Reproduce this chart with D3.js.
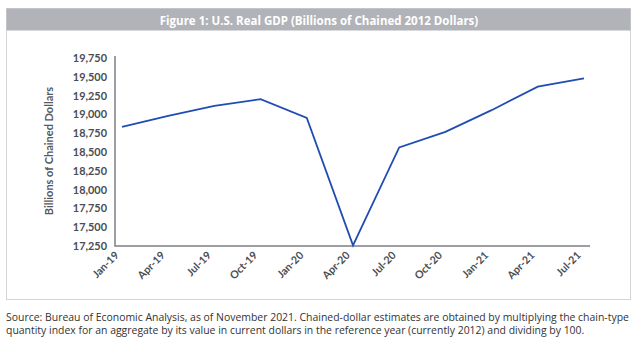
<!DOCTYPE html>
<html>
<head>
<meta charset="utf-8">
<script src="https://cdn.jsdelivr.net/npm/d3@7"></script>
<style>
  body { margin: 0; background: #fff; }
  svg { display: block; font-family: Lato, "Open Sans", sans-serif; }
</style>
</head>
<body>
<div id="chart"></div>
<script>
// quarters and real GDP (billions of chained 2012 dollars)
const quarters = ['Jan-19', 'Apr-19', 'Jul-19', 'Oct-19', 'Jan-20', 'Apr-20',
                  'Jul-20', 'Oct-20', 'Jan-21', 'Apr-21', 'Jul-21'];
const gdp = [18833, 18982, 19112, 19202, 18952, 17258, 18561, 18768, 19056, 19368, 19479];
const yTicks = [17250, 17500, 17750, 18000, 18250, 18500, 18750, 19000, 19250, 19500, 19750];

const title = 'Figure 1: U.S. Real GDP (Billions of Chained 2012 Dollars)';
const yLabel = 'Billions of Chained Dollars';
const source = [
  'Source: Bureau of Economic Analysis, as of November 2021. Chained-dollar estimates are obtained by multiplying the chain-type',
  'quantity index for an aggregate by its value in current dollars in the reference year (currently 2012) and dividing by 100.'
];

const W = 640, H = 343;
const svg = d3.select('#chart').append('svg')
    .attr('width', W).attr('height', H);

//Frame + title band
svg.append('rect')
    .attr('x', 6.5).attr('y', 8.5).attr('width', 624).attr('height', 291)
    .attr('fill', '#fff').attr('stroke', '#d4d5d8').attr('stroke-width', 1);
svg.append('rect')
    .attr('x', 6.5).attr('y', 8.5).attr('width', 624).attr('height', 22)
    .attr('fill', '#b1b3b8');
svg.append('text')
    .attr('x', 319).attr('y', 24.5)
    .attr('text-anchor', 'middle')
    .attr('fill', '#fff')
    .attr('font-family', '"Open Sans", sans-serif')
    .attr('font-weight', 'bold')
    .attr('font-size', 11.5)
    .text(title);

//Scales
const x = d3.scalePoint()
    .domain(quarters)
    .range([122, 584]);
const y = d3.scaleLinear()
    .domain([17250, 19750])
    .range([246, 58]);

//Y axis
const yAxis = svg.append('g')
    .attr('transform', 'translate(115,0)')
    .call(d3.axisLeft(y).tickValues(yTicks).tickSize(0).tickPadding(8).tickFormat(d3.format(',')));
yAxis.select('.domain').remove();
yAxis.selectAll('text')
    .attr('font-size', 10.9)
    .attr('font-weight', 'bold')
    .attr('fill', '#4a4d52')
    .attr('font-family', 'Lato, sans-serif');

//X axis
const xAxis = svg.append('g')
    .attr('transform', 'translate(0,246)')
    .call(d3.axisBottom(x).tickSize(0).tickPadding(0));
xAxis.select('.domain').remove();
xAxis.selectAll('text')
    .attr('font-size', 10.6)
    .attr('font-weight', 'bold')
    .attr('fill', '#4a4d52')
    .attr('font-family', 'Lato, sans-serif')
    .attr('text-anchor', 'end')
    .attr('dy', null)
    .attr('transform', 'translate(-3,10) rotate(-45)');

//Axis lines
svg.append('path')
    .attr('d', 'M115,56V246H590')
    .attr('fill', 'none')
    .attr('stroke', '#7d8086')
    .attr('stroke-width', 1.5);

//Y label
svg.append('text')
    .attr('transform', 'translate(53,151) rotate(-90)')
    .attr('text-anchor', 'middle')
    .attr('font-size', 11)
    .attr('font-weight', 'bold')
    .attr('fill', '#55585d')
    .text(yLabel);

//Line
const line = d3.line()
    .x((d, i) => x(quarters[i]))
    .y(d => y(d));
svg.append('path')
    .datum(gdp)
    .attr('fill', 'none')
    .attr('stroke', '#1f4db3')
    .attr('stroke-width', 1.8)
    .attr('stroke-linejoin', 'miter')
    .attr('d', line);

//Source
svg.append('g')
    .selectAll('text')
    .data(source)
    .enter().append('text')
    .attr('x', 6)
    .attr('y', (d, i) => 321 + i * 12.5)
    .attr('font-family', '"Open Sans", sans-serif')
    .attr('font-size', 10.45)
    .attr('fill', '#333')
    .text(d => d);
</script>
</body>
</html>
